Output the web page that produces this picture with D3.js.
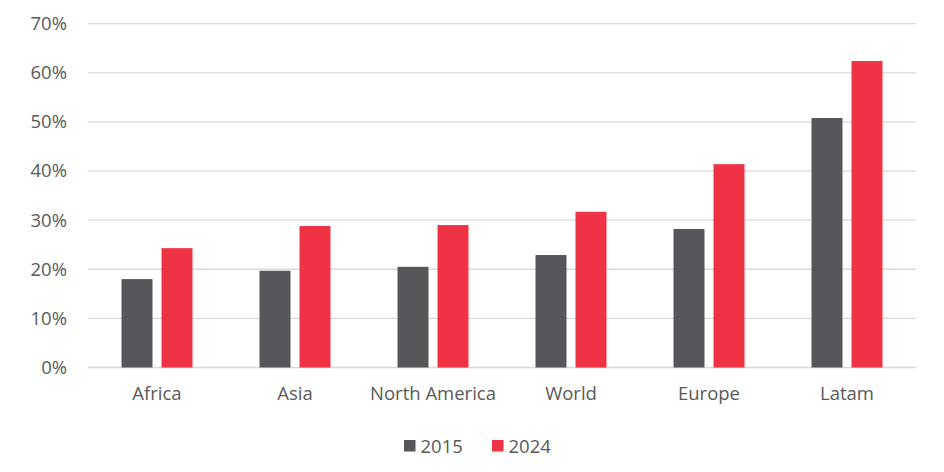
<!DOCTYPE html>
<html>
<head>
<meta charset="utf-8">
<script src="https://cdn.jsdelivr.net/npm/d3@7"></script>
<style>
  body { margin: 0; background: #fff; }
  text { font-family: "Open Sans", sans-serif; fill: #595959; }
</style>
</head>
<body>
<div id="chart"></div>
<script>
// Chart data
const regions = ["Africa", "Asia", "North America", "World", "Europe", "Latam"];
const years = ["2015", "2024"];
const values2015 = [18.0, 19.7, 20.5, 22.9, 28.2, 50.8];
const values2024 = [24.3, 28.8, 29.0, 31.7, 41.4, 62.4];
const yTicks = [0, 10, 20, 30, 40, 50, 60, 70];
const colors = ["#56575b", "#ef3345"];

const width = 944;
const height = 472;
const margin = { top: 24, right: 28, bottom: 104, left: 88 };

const svg = d3.select("#chart")
    .append("svg")
    .attr("width", width)
    .attr("height", height);

const x0 = d3.scaleBand()
    .domain(regions)
    .range([margin.left, width - margin.right])
    .padding(0);

const y = d3.scaleLinear()
    .domain([0, 70])
    .range([367.5, 23.7]);

// gridlines
svg.append("g")
    .selectAll("line")
    .data(yTicks)
    .enter()
    .append("line")
    .attr("x1", margin.left)
    .attr("x2", width - margin.right)
    .attr("y1", d => y(d))
    .attr("y2", d => y(d))
    .attr("stroke", "#d9d9d9")
    .attr("stroke-width", 1.3);

// y axis labels
const yAxis = d3.axisLeft(y)
    .tickValues(yTicks)
    .tickFormat(d => d + "%")
    .tickSize(0)
    .tickPadding(21);
const yG = svg.append("g")
    .attr("transform", `translate(${margin.left}, 0)`)
    .call(yAxis);
yG.select(".domain").remove();
yG.selectAll("text")
    .style("font-size", "18.5px")
    .style("font-family", "Open Sans, sans-serif")
    .attr("fill", "#595959");

// x axis labels
const xAxis = d3.axisBottom(x0).tickSize(0).tickPadding(19);
const xG = svg.append("g")
    .attr("transform", `translate(0, ${y(0)})`)
    .call(xAxis);
xG.select(".domain").remove();
xG.selectAll("text")
    .style("font-size", "18.5px")
    .style("font-family", "Open Sans, sans-serif")
    .attr("fill", "#595959");

// bars
const groupWidth = 71;
const x1 = d3.scaleBand()
    .domain(years)
    .range([-groupWidth / 2, groupWidth / 2])
    .paddingInner(0.225)
    .paddingOuter(0);

const rows = regions.map((r, i) => ({ region: r, vals: [values2015[i], values2024[i]] }));

const groups = svg.selectAll(".barGroup")
    .data(rows)
    .enter()
    .append("g")
    .attr("class", "barGroup")
    .attr("transform", d => `translate(${x0(d.region) + x0.bandwidth() / 2}, 0)`);

groups.selectAll("rect")
    .data(d => years.map((yr, j) => ({ year: yr, value: d.vals[j], idx: j })))
    .enter()
    .append("rect")
    .attr("x", d => x1(d.year))
    .attr("y", d => y(d.value))
    .attr("width", x1.bandwidth())
    .attr("height", d => y(0) - y(d.value))
    .attr("fill", d => colors[d.idx]);

// legend
const legend = svg.append("g").attr("transform", "translate(404, 440)");
const legendX = [0, 88];
years.forEach((yr, i) => {
    legend.append("rect")
        .attr("x", legendX[i])
        .attr("y", 0)
        .attr("width", 11.5)
        .attr("height", 11.5)
        .attr("fill", colors[i]);
    legend.append("text")
        .attr("x", legendX[i] + 16.5)
        .attr("y", 12.5)
        .style("font-size", "18.5px")
        .text(yr);
});
</script>
</body>
</html>
